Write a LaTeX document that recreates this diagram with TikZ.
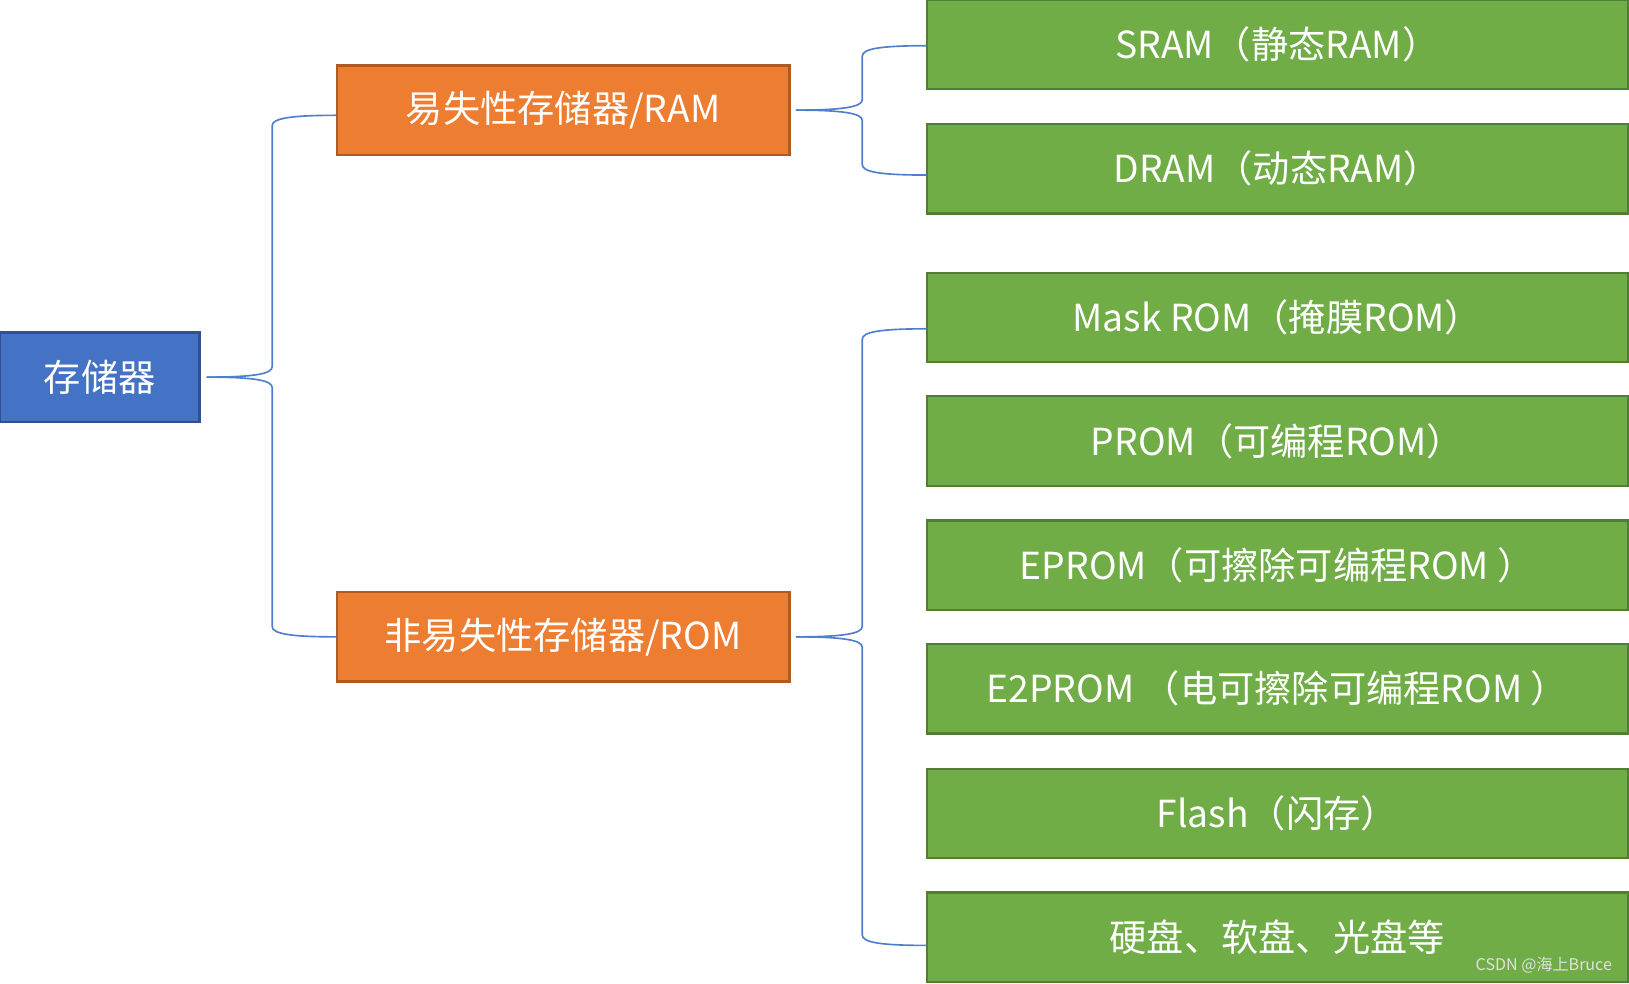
\documentclass[tikz,border=0pt]{standalone}
\usepackage{fontspec}
\setmainfont{Noto Sans CJK SC}
\definecolor{rootblue}{HTML}{4472C4}
\definecolor{rootedge}{HTML}{2F528F}
\definecolor{midorange}{HTML}{ED7D31}
\definecolor{midedge}{HTML}{AE5A21}
\definecolor{leafgreen}{HTML}{70AD47}
\definecolor{leafedge}{HTML}{507E32}
\definecolor{linkblue}{HTML}{4F7FCC}
\begin{document}
\begin{tikzpicture}[
    box/.style={draw, line width=.6pt, text=white, inner sep=0pt, outer sep=0pt,
        minimum height=.86cm, font=\fontsize{10.2}{12}\selectfont},
    root/.style={box, fill=rootblue, draw=rootedge, minimum width=1.92cm},
    mid/.style={box, fill=midorange, draw=midedge, minimum width=4.36cm},
    leaf/.style={box, fill=leafgreen, draw=leafedge, minimum width=6.75cm},
    link/.style={draw=linkblue, line width=.45pt}]
    \useasboundingbox (0,0) rectangle (15.68,-9.47);
    \node[root] (store) at (.96,-3.63) {存储器};
    \node[mid] (ram) at (5.42,-1.06) {易失性存储器/RAM};
    \node[mid] (rom) at (5.42,-6.13) {非易失性存储器/ROM};
    \node[leaf] (sram) at (12.295,-.43) {SRAM（静态RAM）};
    \node[leaf] (dram) at (12.295,-1.625) {DRAM（动态RAM）};
    \node[leaf] (mask) at (12.295,-3.055) {Mask ROM（掩膜ROM）};
    \node[leaf] (prom) at (12.295,-4.245) {PROM（可编程ROM）};
    \node[leaf] (eprom) at (12.295,-5.44) {EPROM（可擦除可编程ROM ）};
    \node[leaf] (eeprom) at (12.295,-6.63) {E2PROM （电可擦除可编程ROM ）};
    \node[leaf] (flash) at (12.295,-7.83) {Flash（闪存）};
    \node[leaf] (disk) at (12.295,-9.02) {硬盘、软盘、光盘等};
    \node[text=white!88!black, font=\fontsize{4.4}{5}\selectfont] (mark) at (14.86,-9.29) {CSDN @海上Bruce};
    \draw[link] ([xshift=.07cm]store.east) .. controls +(.45,0) and +(0,-.07) .. ([xshift=.7cm,yshift=.1cm]store.east)
        -- ([xshift=-.62cm,yshift=-.15cm]ram.west) .. controls +(0,.07) and +(-.45,0) .. ([yshift=-.05cm]ram.west);
    \draw[link] ([xshift=.07cm]store.east) .. controls +(.45,0) and +(0,.07) .. ([xshift=.7cm,yshift=-.1cm]store.east)
        -- ([xshift=-.62cm,yshift=.1cm]rom.west) .. controls +(0,-.07) and +(-.45,0) .. (rom.west);
    \draw[link] ([xshift=.06cm]ram.east) .. controls +(.45,0) and +(0,-.07) .. ([xshift=.7cm,yshift=.1cm]ram.east)
        -- ([xshift=-.62cm,yshift=-.11cm]sram.west) .. controls +(0,.07) and +(-.45,0) .. ([yshift=-.01cm]sram.west);
    \draw[link] ([xshift=.06cm]ram.east) .. controls +(.45,0) and +(0,.07) .. ([xshift=.7cm,yshift=-.1cm]ram.east)
        -- ([xshift=-.62cm,yshift=.04cm]dram.west) .. controls +(0,-.07) and +(-.45,0) .. ([yshift=-.06cm]dram.west);
    \draw[link] ([xshift=.06cm]rom.east) .. controls +(.45,0) and +(0,-.07) .. ([xshift=.7cm,yshift=.1cm]rom.east)
        -- ([xshift=-.62cm,yshift=-.21cm]mask.west) .. controls +(0,.07) and +(-.45,0) .. ([yshift=-.11cm]mask.west);
    \draw[link] ([xshift=.06cm]rom.east) .. controls +(.45,0) and +(0,.07) .. ([xshift=.7cm,yshift=-.1cm]rom.east)
        -- ([xshift=-.62cm,yshift=.02cm]disk.west) .. controls +(0,-.07) and +(-.45,0) .. ([yshift=-.08cm]disk.west);
\end{tikzpicture}
\end{document}
